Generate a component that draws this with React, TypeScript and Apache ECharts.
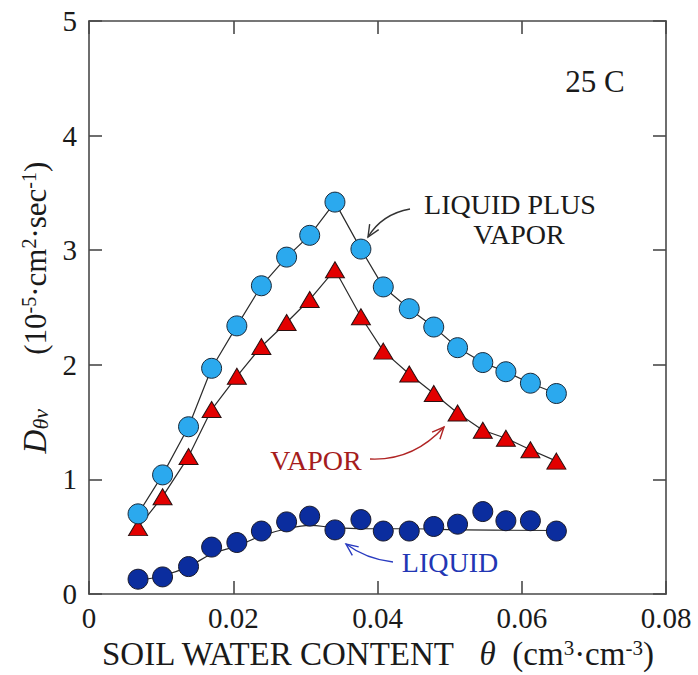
import React, { useEffect, useRef } from 'react';
import * as echarts from 'echarts';

// Volumetric soil water content (cm3/cm3) shared by all three series
const THETA = [
  0.0068, 0.0102, 0.0138, 0.017, 0.0205, 0.0239, 0.0274, 0.0306, 0.0341,
  0.0377, 0.0408, 0.0444, 0.0478, 0.0511, 0.0546, 0.0578, 0.0612, 0.0648,
];
// Diffusivities (10^-5 cm2/sec)
const LIQUID_PLUS_VAPOR = [
  0.7, 1.04, 1.46, 1.97, 2.34, 2.69, 2.94, 3.13, 3.42,
  3.01, 2.68, 2.49, 2.33, 2.15, 2.02, 1.94, 1.84, 1.75,
];
const VAPOR = [
  0.58, 0.85, 1.2, 1.61, 1.9, 2.16, 2.37, 2.57, 2.83,
  2.42, 2.12, 1.92, 1.75, 1.58, 1.43, 1.36, 1.26, 1.16,
];
const LIQUID = [
  0.13, 0.15, 0.24, 0.41, 0.45, 0.55, 0.63, 0.68, 0.56,
  0.65, 0.55, 0.55, 0.59, 0.61, 0.72, 0.64, 0.64, 0.55,
];
// Smoothed trend drawn through the liquid points
const LIQUID_FIT_THETA = [0.0068, 0.0102, 0.0138, 0.017, 0.0205, 0.024, 0.0274, 0.0306, 0.034, 0.038, 0.045, 0.052, 0.0648];
const LIQUID_FIT = [0.12, 0.16, 0.24, 0.35, 0.42, 0.51, 0.57, 0.6, 0.58, 0.57, 0.57, 0.56, 0.555];

const X_MIN = 0;
const X_MAX = 0.08;
const X_STEP = 0.02;
const Y_MIN = 0;
const Y_MAX = 5;
const Y_STEP = 1;

const FONT = 'Liberation Serif, Times New Roman, serif';
const AXIS_COLOR = '#4a4a4a';

type Pt = [number, number];

function curvedArrow(p0: Pt, c: Pt, p1: Pt, color: string) {
  const dx = p1[0] - c[0];
  const dy = p1[1] - c[1];
  const d = Math.hypot(dx, dy) || 1;
  const ux = dx / d;
  const uy = dy / d;
  const len = 13;
  const a = (24 * Math.PI) / 180;
  const rot = (s: number): Pt => {
    const cos = Math.cos(s * a);
    const sin = Math.sin(s * a);
    const rx = ux * cos - uy * sin;
    const ry = ux * sin + uy * cos;
    return [p1[0] - len * rx, p1[1] - len * ry];
  };
  return [
    {
      type: 'bezierCurve',
      shape: { x1: p0[0], y1: p0[1], x2: p1[0], y2: p1[1], cpx1: c[0], cpy1: c[1] },
      style: { stroke: color, lineWidth: 1.4, fill: null },
      silent: true,
    },
    {
      type: 'polyline',
      shape: { points: [rot(1), p1, rot(-1)] },
      style: { stroke: color, lineWidth: 1.4, fill: null },
      silent: true,
    },
  ];
}

// Annotation text, styled through a rich block so the serif face is applied
function label(text: string, x: number, y: number, color: string, size: number) {
  return {
    type: 'text',
    x,
    y,
    silent: true,
    style: {
      text: `{t|${text}}`,
      align: 'center',
      verticalAlign: 'middle',
      rich: {
        t: { fontFamily: 'Liberation Serif', fontSize: size, fill: color, color },
      },
    },
  };
}

export default function App() {
  const ref = useRef<HTMLDivElement>(null);

  useEffect(() => {
    document.body.style.margin = '0';
    if (!ref.current) return;
    const chart = echarts.init(ref.current, null, { renderer: 'svg' });

    const axisLine = { show: true, onZero: false, lineStyle: { color: AXIS_COLOR, width: 1.6 } };
    const axisTick = { show: true, inside: true, length: 13, lineStyle: { color: AXIS_COLOR, width: 1.6 } };
    const tickLabel = { fontFamily: FONT, fontSize: 29, color: '#1a1a1a' };

    const zip = (xs: number[], ys: number[]) => xs.map((x, i) => [x, ys[i]]);

    chart.setOption({
      animation: false,
      backgroundColor: '#ffffff',
      grid: { left: 89, top: 21, width: 577, height: 576, containLabel: false },
      xAxis: [
        {
          type: 'value',
          min: X_MIN,
          max: X_MAX,
          interval: X_STEP,
          position: 'bottom',
          axisLine,
          axisTick,
          splitLine: { show: false },
          axisLabel: {
            ...tickLabel,
            margin: 9,
            formatter: (v: number) => (v === 0 ? '0' : v.toFixed(2)),
          },
          name:
            '{n|SOIL WATER CONTENT}   {it|θ}  {n|(cm}{sup|3}{n|·cm}{sup|-3}{n|)}',
          nameLocation: 'middle',
          nameGap: 38,
          nameTextStyle: {
            fontFamily: FONT,
            fontSize: 33,
            color: '#1a1a1a',
            rich: {
              n: { fontFamily: FONT, fontSize: 33, color: '#1a1a1a' },
              it: { fontFamily: FONT, fontSize: 33, fontStyle: 'italic', color: '#1a1a1a' },
              sup: { fontFamily: FONT, fontSize: 21, color: '#1a1a1a', verticalAlign: 'top' },
            },
          },
        },
        {
          type: 'value',
          min: X_MIN,
          max: X_MAX,
          interval: X_STEP,
          position: 'top',
          axisLine,
          axisTick,
          splitLine: { show: false },
          axisLabel: { show: false },
        },
      ],
      yAxis: [
        {
          type: 'value',
          min: Y_MIN,
          max: Y_MAX,
          interval: Y_STEP,
          position: 'left',
          axisLine,
          axisTick,
          splitLine: { show: false },
          axisLabel: { ...tickLabel, margin: 12 },
          name:
            '{it|D}{sub|θv}       {n|(10}{sup|-5}{n|·cm}{sup|2}{n|·sec}{sup|-1}{n|)}',
          nameLocation: 'middle',
          nameGap: 36,
          nameTextStyle: {
            fontFamily: FONT,
            fontSize: 31,
            color: '#1a1a1a',
            rich: {
              n: { fontFamily: FONT, fontSize: 31, color: '#1a1a1a' },
              it: { fontFamily: FONT, fontSize: 33, fontStyle: 'italic', color: '#1a1a1a' },
              sub: { fontFamily: FONT, fontSize: 22, fontStyle: 'italic', color: '#1a1a1a', verticalAlign: 'bottom' },
              sup: { fontFamily: FONT, fontSize: 20, color: '#1a1a1a', verticalAlign: 'top' },
            },
          },
        },
        {
          type: 'value',
          min: Y_MIN,
          max: Y_MAX,
          interval: Y_STEP,
          position: 'right',
          axisLine,
          axisTick,
          splitLine: { show: false },
          axisLabel: { show: false },
        },
      ],
      series: [
        {
          name: 'Liquid fit',
          type: 'line',
          data: zip(LIQUID_FIT_THETA, LIQUID_FIT),
          smooth: 0.4,
          showSymbol: false,
          symbol: 'none',
          lineStyle: { color: '#2a2a2a', width: 1.2 },
          z: 2,
        },
        {
          name: 'Liquid',
          type: 'scatter',
          data: zip(THETA, LIQUID),
          symbol: 'circle',
          symbolSize: 20,
          itemStyle: { color: '#0b2d9e', borderColor: '#1a1a2a', borderWidth: 1, opacity: 1 },
          z: 3,
        },
        {
          name: 'Vapor',
          type: 'line',
          data: zip(THETA, VAPOR),
          symbol: 'triangle',
          symbolSize: [19, 16],
          showAllSymbol: true,
          lineStyle: { color: '#2a2a2a', width: 1.2 },
          itemStyle: { color: '#e30000', borderColor: '#2a1010', borderWidth: 1 },
          z: 3,
        },
        {
          name: 'Liquid plus vapor',
          type: 'line',
          data: zip(THETA, LIQUID_PLUS_VAPOR),
          symbol: 'circle',
          symbolSize: 20,
          showAllSymbol: true,
          lineStyle: { color: '#2a2a2a', width: 1.2 },
          itemStyle: { color: '#2ba9ee', borderColor: '#1a2a3a', borderWidth: 1 },
          z: 4,
        },
      ],
      graphic: [
        label('25 C', 595, 81, '#1a1a1a', 31),
        label('LIQUID PLUS', 510, 204, '#1a1a1a', 28),
        label('VAPOR', 519, 234, '#1a1a1a', 28),
        label('VAPOR', 316, 460, '#a51c1c', 28),
        label('LIQUID', 450, 562, '#2236b4', 28),
        ...curvedArrow([410, 209], [382, 214], [368, 237], '#333333'),
        ...curvedArrow([370, 459], [413, 461], [444, 427], '#b02424'),
        ...curvedArrow([393, 562], [366, 559], [346, 544], '#2a3cc0'),
      ],
    });

    return () => chart.dispose();
  }, []);

  return <div ref={ref} style={{ width: 698, height: 675 }} />;
}
